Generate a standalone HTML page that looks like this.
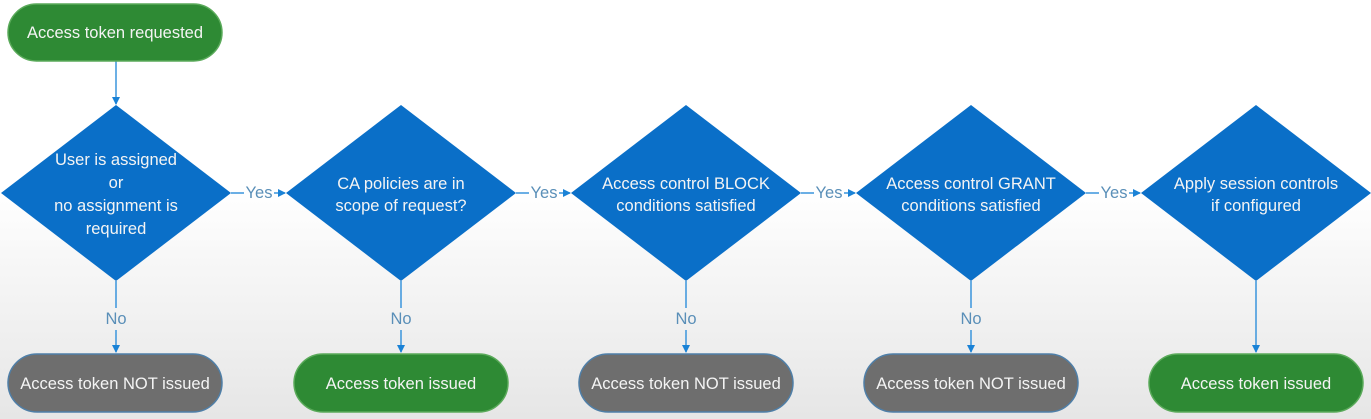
<!DOCTYPE html>
<html><head><meta charset="utf-8"><style>
html,body{margin:0;padding:0;width:1371px;height:419px;overflow:hidden}
body{background:linear-gradient(#ffffff 0%,#ffffff 45%,#e6e6e6 100%)}
text{font-family:"Liberation Sans",sans-serif;font-size:16.5px}
</style></head><body>
<svg width="1371" height="419" xmlns="http://www.w3.org/2000/svg">
<defs>
<marker id="a" markerWidth="8" markerHeight="8" refX="7" refY="4" orient="auto" markerUnits="userSpaceOnUse"><path d="M0,0 L8,4 L0,8 z" fill="#1a82d6"/></marker>
</defs>
<g stroke="#3a95dc" stroke-width="1.5" fill="none">
<line x1="116" y1="61" x2="116" y2="104" marker-end="url(#a)"/>
<line x1="231" y1="193" x2="244" y2="193"/><line x1="274" y1="193" x2="285" y2="193" marker-end="url(#a)"/>
<line x1="516" y1="193" x2="529" y2="193"/><line x1="559" y1="193" x2="570" y2="193" marker-end="url(#a)"/>
<line x1="801" y1="193" x2="814" y2="193"/><line x1="844" y1="193" x2="855" y2="193" marker-end="url(#a)"/>
<line x1="1086" y1="193" x2="1099" y2="193"/><line x1="1129" y1="193" x2="1140" y2="193" marker-end="url(#a)"/>
<line x1="116" y1="281" x2="116" y2="308"/><line x1="116" y1="330" x2="116" y2="352" marker-end="url(#a)"/>
<line x1="401" y1="281" x2="401" y2="308"/><line x1="401" y1="330" x2="401" y2="352" marker-end="url(#a)"/>
<line x1="686" y1="281" x2="686" y2="308"/><line x1="686" y1="330" x2="686" y2="352" marker-end="url(#a)"/>
<line x1="971" y1="281" x2="971" y2="308"/><line x1="971" y1="330" x2="971" y2="352" marker-end="url(#a)"/>
<line x1="1256" y1="281" x2="1256" y2="352" marker-end="url(#a)"/>
</g>
<g fill="#5a8fb8" text-anchor="middle" style="font-size:14.5px">
<text x="259" y="198">Yes</text><text x="544" y="198">Yes</text><text x="829" y="198">Yes</text><text x="1114" y="198">Yes</text>
<text x="116" y="324">No</text><text x="401" y="324">No</text><text x="686" y="324">No</text><text x="971" y="324">No</text>
</g>
<rect x="8" y="4" width="214" height="57" rx="28.5" fill="#2e8a34" stroke="#5aaa5a" stroke-width="1.5"/>
<g fill="#0a6fc8">
<polygon points="1,193 116,105 231,193 116,281"/>
<polygon points="286,193 401,105 516,193 401,281"/>
<polygon points="571,193 686,105 801,193 686,281"/>
<polygon points="856,193 971,105 1086,193 971,281"/>
<polygon points="1141,193 1256,105 1371,193 1256,281"/>
</g>
<g stroke-width="1.5">
<rect x="8" y="354" width="214" height="58" rx="29" fill="#6e6e6e" stroke="#4f7fa8"/>
<rect x="294" y="354" width="214" height="58" rx="29" fill="#2e8a34" stroke="#5aaa5a"/>
<rect x="579" y="354" width="214" height="58" rx="29" fill="#6e6e6e" stroke="#4f7fa8"/>
<rect x="864" y="354" width="214" height="58" rx="29" fill="#6e6e6e" stroke="#4f7fa8"/>
<rect x="1149" y="354" width="214" height="58" rx="29" fill="#2e8a34" stroke="#5aaa5a"/>
</g>
<g fill="#f4f4f4" text-anchor="middle">
<text x="115" y="38">Access token requested</text>
<text x="116" y="165">User is assigned</text><text x="116" y="188">or</text><text x="116" y="211">no assignment is</text><text x="116" y="234">required</text>
<text x="401" y="189">CA policies are in</text><text x="401" y="211">scope of request?</text>
<text x="686" y="189">Access control BLOCK</text><text x="686" y="211">conditions satisfied</text>
<text x="971" y="189">Access control GRANT</text><text x="971" y="211">conditions satisfied</text>
<text x="1256" y="189">Apply session controls</text><text x="1256" y="211">if configured</text>
<text x="115" y="389">Access token NOT issued</text>
<text x="401" y="389">Access token issued</text>
<text x="686" y="389">Access token NOT issued</text>
<text x="971" y="389">Access token NOT issued</text>
<text x="1256" y="389">Access token issued</text>
</g>
</svg>
</body></html>
